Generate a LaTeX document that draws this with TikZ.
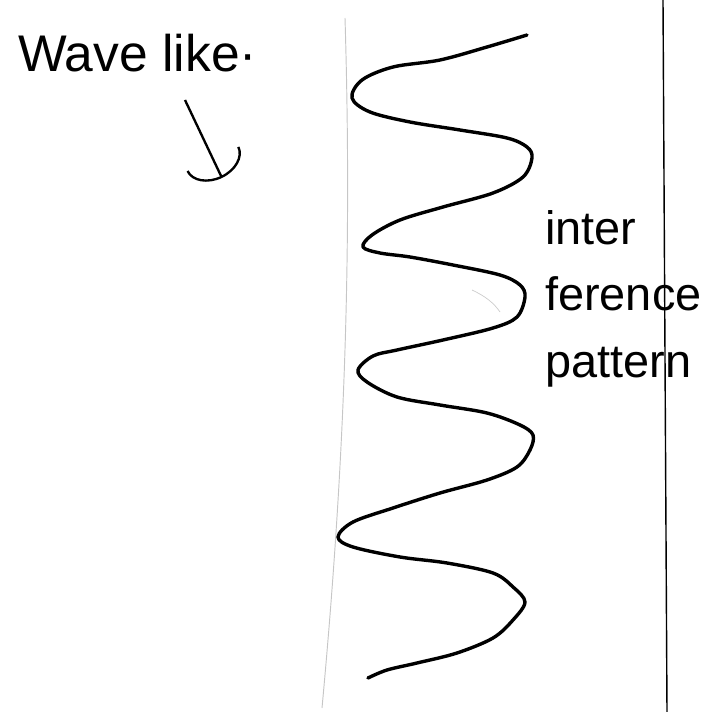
\documentclass[tikz,border=0pt]{standalone}
\usepackage{fontspec}
\setmainfont{Liberation Sans}
\usetikzlibrary{arrows.meta}
\begin{document}
\begin{tikzpicture}[x=0.03cm,y=-0.03cm]
        \useasboundingbox (0,0) rectangle (721,712);
        \draw[gray!45,line width=.8pt] (345,18) .. controls (352,250) and (345,460) .. (322,708);
        \draw[line width=1.2pt] (663,0)--(667,712);
        \draw[gray!40,line width=.6pt] (472,290) .. controls (485,296) and (494,303) .. (500,312);
        \draw[line width=2.9pt,line join=round,line cap=round] plot[smooth,tension=.55] coordinates{
            (527,35) (487,47) (440,60) (393,67) (362,80) (352,98)
            (370,112) (410,122) (460,130) (507,138) (527,147) (532,158)
            (523,177) (493,193) (443,207) (400,220) (372,235) (363,247)
            (380,253) (410,257) (453,265) (500,275) (520,285) (525,297)
            (517,317) (493,328) (443,340) (397,350) (373,356) (358,370)
            (367,382) (397,397) (440,405) (487,413) (520,425) (533,435)
            (530,450) (517,467) (487,480) (440,493) (393,508) (353,522) (338,537)
            (353,547) (400,557) (447,563) (493,573) (513,587) (525,602)
            (513,620) (493,638) (457,653) (417,663) (387,670) (368,678)};
        \node[anchor=base west,inner sep=0pt,font=\fontsize{44}{53}\selectfont] (wave) at (18,72) {Wave like\textperiodcentered};
        \coordinate (tail) at (185,100);
        \coordinate (tip) at (222,178);
        \draw[line width=2pt,-{Arc Barb[width=50pt,length=18pt]}] (tail)--(tip);
        \node[anchor=north west,align=left,inner sep=0pt,font=\fontsize{40}{57}\selectfont] (pattern) at (545,210) {inter\\ference\\pattern};
    \end{tikzpicture}
\end{document}
